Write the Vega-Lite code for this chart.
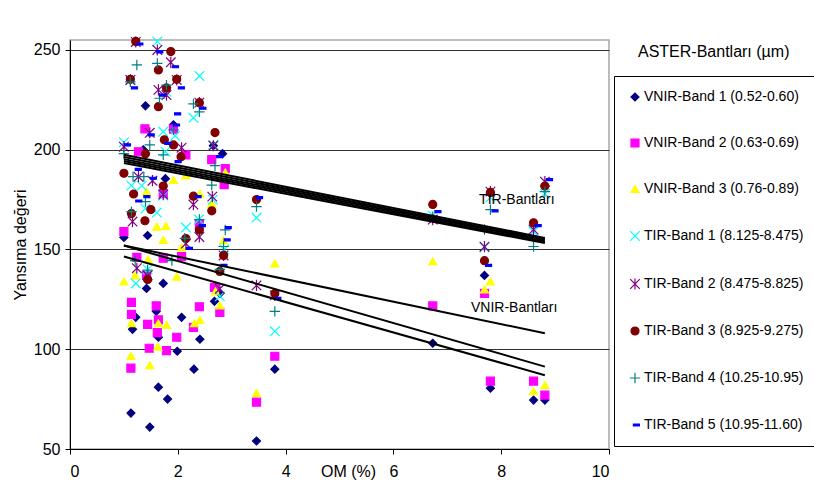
{
  "$schema": "https://vega.github.io/schema/vega-lite/v6.json",
  "width": 539,
  "height": 409,
  "autosize": {"type": "none"},
  "padding": {"left": 70, "top": 40, "right": 205, "bottom": 35},
  "background": "white",
  "config": {
    "font": "Liberation Sans",
    "view": {"stroke": "#a6a6a6", "strokeWidth": 1.5},
    "axis": {"labelFont": "Liberation Sans", "titleFont": "Liberation Sans", "labelColor": "black", "titleColor": "black", "titleFontWeight": "normal", "labelFontSize": 16, "titleFontSize": 16, "domainColor": "black", "tickColor": "black"}
  },
  "title": {"text": "ASTER-Bantları (µm)", "anchor": "start", "frame": "group", "orient": "top", "offset": 0, "dx": 568, "dy": 34, "baseline": "middle", "fontSize": 16, "fontWeight": "normal", "font": "Liberation Sans", "color": "black"},
  "datasets": {
    "points": [
      {"b":"VNIR-Band 1 (0.52-0.60)","om":1.00,"value":156},{"b":"VNIR-Band 1 (0.52-0.60)","om":1.13,"value":68},{"b":"VNIR-Band 1 (0.52-0.60)","om":1.16,"value":110},{"b":"VNIR-Band 1 (0.52-0.60)","om":1.22,"value":116},{"b":"VNIR-Band 1 (0.52-0.60)","om":1.36,"value":200},{"b":"VNIR-Band 1 (0.52-0.60)","om":1.40,"value":222},{"b":"VNIR-Band 1 (0.52-0.60)","om":1.42,"value":130.5},{"b":"VNIR-Band 1 (0.52-0.60)","om":1.44,"value":157},{"b":"VNIR-Band 1 (0.52-0.60)","om":1.48,"value":61},{"b":"VNIR-Band 1 (0.52-0.60)","om":1.60,"value":119},{"b":"VNIR-Band 1 (0.52-0.60)","om":1.64,"value":106},{"b":"VNIR-Band 1 (0.52-0.60)","om":1.64,"value":81},{"b":"VNIR-Band 1 (0.52-0.60)","om":1.73,"value":133},{"b":"VNIR-Band 1 (0.52-0.60)","om":1.77,"value":185.5},{"b":"VNIR-Band 1 (0.52-0.60)","om":1.81,"value":75},{"b":"VNIR-Band 1 (0.52-0.60)","om":1.92,"value":212.5},{"b":"VNIR-Band 1 (0.52-0.60)","om":1.99,"value":99},{"b":"VNIR-Band 1 (0.52-0.60)","om":2.07,"value":116},{"b":"VNIR-Band 1 (0.52-0.60)","om":2.30,"value":90},{"b":"VNIR-Band 1 (0.52-0.60)","om":2.41,"value":105},{"b":"VNIR-Band 1 (0.52-0.60)","om":2.66,"value":202},{"b":"VNIR-Band 1 (0.52-0.60)","om":2.68,"value":124},{"b":"VNIR-Band 1 (0.52-0.60)","om":2.78,"value":128},{"b":"VNIR-Band 1 (0.52-0.60)","om":2.83,"value":198},{"b":"VNIR-Band 1 (0.52-0.60)","om":3.46,"value":54},{"b":"VNIR-Band 1 (0.52-0.60)","om":3.80,"value":90},{"b":"VNIR-Band 1 (0.52-0.60)","om":6.73,"value":103},{"b":"VNIR-Band 1 (0.52-0.60)","om":7.69,"value":137},{"b":"VNIR-Band 1 (0.52-0.60)","om":7.80,"value":80.5},{"b":"VNIR-Band 1 (0.52-0.60)","om":8.60,"value":74.5},{"b":"VNIR-Band 1 (0.52-0.60)","om":8.81,"value":74.5},
      {"b":"VNIR-Band 2 (0.63-0.69)","om":1.00,"value":159},{"b":"VNIR-Band 2 (0.63-0.69)","om":1.13,"value":90.5},{"b":"VNIR-Band 2 (0.63-0.69)","om":1.14,"value":123.5},{"b":"VNIR-Band 2 (0.63-0.69)","om":1.14,"value":117.5},{"b":"VNIR-Band 2 (0.63-0.69)","om":1.24,"value":146},{"b":"VNIR-Band 2 (0.63-0.69)","om":1.27,"value":199},{"b":"VNIR-Band 2 (0.63-0.69)","om":1.39,"value":210.5},{"b":"VNIR-Band 2 (0.63-0.69)","om":1.42,"value":137},{"b":"VNIR-Band 2 (0.63-0.69)","om":1.44,"value":112.5},{"b":"VNIR-Band 2 (0.63-0.69)","om":1.47,"value":100.5},{"b":"VNIR-Band 2 (0.63-0.69)","om":1.60,"value":121.7},{"b":"VNIR-Band 2 (0.63-0.69)","om":1.62,"value":108.3},{"b":"VNIR-Band 2 (0.63-0.69)","om":1.64,"value":114.7},{"b":"VNIR-Band 2 (0.63-0.69)","om":1.73,"value":145.6},{"b":"VNIR-Band 2 (0.63-0.69)","om":1.73,"value":178},{"b":"VNIR-Band 2 (0.63-0.69)","om":1.79,"value":99.3},{"b":"VNIR-Band 2 (0.63-0.69)","om":1.92,"value":210.3},{"b":"VNIR-Band 2 (0.63-0.69)","om":1.98,"value":106},{"b":"VNIR-Band 2 (0.63-0.69)","om":2.07,"value":146.4},{"b":"VNIR-Band 2 (0.63-0.69)","om":2.15,"value":197.4},{"b":"VNIR-Band 2 (0.63-0.69)","om":2.29,"value":111},{"b":"VNIR-Band 2 (0.63-0.69)","om":2.40,"value":121.3},{"b":"VNIR-Band 2 (0.63-0.69)","om":2.40,"value":162.6},{"b":"VNIR-Band 2 (0.63-0.69)","om":2.63,"value":195},{"b":"VNIR-Band 2 (0.63-0.69)","om":2.68,"value":131},{"b":"VNIR-Band 2 (0.63-0.69)","om":2.78,"value":118.5},{"b":"VNIR-Band 2 (0.63-0.69)","om":2.86,"value":182.5},{"b":"VNIR-Band 2 (0.63-0.69)","om":2.88,"value":190.5},{"b":"VNIR-Band 2 (0.63-0.69)","om":3.46,"value":73.5},{"b":"VNIR-Band 2 (0.63-0.69)","om":3.80,"value":96.5},{"b":"VNIR-Band 2 (0.63-0.69)","om":6.73,"value":121.7},{"b":"VNIR-Band 2 (0.63-0.69)","om":7.69,"value":128},{"b":"VNIR-Band 2 (0.63-0.69)","om":7.80,"value":84},{"b":"VNIR-Band 2 (0.63-0.69)","om":8.60,"value":84},{"b":"VNIR-Band 2 (0.63-0.69)","om":8.81,"value":77},
      {"b":"VNIR-Band 3 (0.76-0.89)","om":1.00,"value":134},{"b":"VNIR-Band 3 (0.76-0.89)","om":1.13,"value":96.6},{"b":"VNIR-Band 3 (0.76-0.89)","om":1.14,"value":113},{"b":"VNIR-Band 3 (0.76-0.89)","om":1.21,"value":137},{"b":"VNIR-Band 3 (0.76-0.89)","om":1.42,"value":179},{"b":"VNIR-Band 3 (0.76-0.89)","om":1.45,"value":145},{"b":"VNIR-Band 3 (0.76-0.89)","om":1.48,"value":92},{"b":"VNIR-Band 3 (0.76-0.89)","om":1.61,"value":161.4},{"b":"VNIR-Band 3 (0.76-0.89)","om":1.63,"value":101.3},{"b":"VNIR-Band 3 (0.76-0.89)","om":1.64,"value":113},{"b":"VNIR-Band 3 (0.76-0.89)","om":1.73,"value":154.8},{"b":"VNIR-Band 3 (0.76-0.89)","om":1.78,"value":161.8},{"b":"VNIR-Band 3 (0.76-0.89)","om":1.79,"value":112.2},{"b":"VNIR-Band 3 (0.76-0.89)","om":1.92,"value":184.8},{"b":"VNIR-Band 3 (0.76-0.89)","om":1.98,"value":136.4},{"b":"VNIR-Band 3 (0.76-0.89)","om":2.07,"value":151},{"b":"VNIR-Band 3 (0.76-0.89)","om":2.15,"value":187.3},{"b":"VNIR-Band 3 (0.76-0.89)","om":2.31,"value":113},{"b":"VNIR-Band 3 (0.76-0.89)","om":2.41,"value":114.7},{"b":"VNIR-Band 3 (0.76-0.89)","om":2.41,"value":178},{"b":"VNIR-Band 3 (0.76-0.89)","om":2.63,"value":173},{"b":"VNIR-Band 3 (0.76-0.89)","om":2.70,"value":129},{"b":"VNIR-Band 3 (0.76-0.89)","om":2.78,"value":122},{"b":"VNIR-Band 3 (0.76-0.89)","om":2.85,"value":154.7},{"b":"VNIR-Band 3 (0.76-0.89)","om":2.88,"value":188.6},{"b":"VNIR-Band 3 (0.76-0.89)","om":3.46,"value":78},{"b":"VNIR-Band 3 (0.76-0.89)","om":3.80,"value":143},{"b":"VNIR-Band 3 (0.76-0.89)","om":6.73,"value":144},{"b":"VNIR-Band 3 (0.76-0.89)","om":7.69,"value":130},{"b":"VNIR-Band 3 (0.76-0.89)","om":7.80,"value":134},{"b":"VNIR-Band 3 (0.76-0.89)","om":8.60,"value":79},{"b":"VNIR-Band 3 (0.76-0.89)","om":8.81,"value":82},
      {"b":"TIR-Band 1 (8.125-8.475)","om":1.00,"value":203.7},{"b":"TIR-Band 1 (8.125-8.475)","om":1.12,"value":235},{"b":"TIR-Band 1 (8.125-8.475)","om":1.14,"value":182},{"b":"TIR-Band 1 (8.125-8.475)","om":1.22,"value":133},{"b":"TIR-Band 1 (8.125-8.475)","om":1.33,"value":182},{"b":"TIR-Band 1 (8.125-8.475)","om":1.40,"value":170.5},{"b":"TIR-Band 1 (8.125-8.475)","om":1.44,"value":140},{"b":"TIR-Band 1 (8.125-8.475)","om":1.62,"value":254.2},{"b":"TIR-Band 1 (8.125-8.475)","om":1.61,"value":168.5},{"b":"TIR-Band 1 (8.125-8.475)","om":1.73,"value":209},{"b":"TIR-Band 1 (8.125-8.475)","om":1.73,"value":177},{"b":"TIR-Band 1 (8.125-8.475)","om":1.77,"value":199},{"b":"TIR-Band 1 (8.125-8.475)","om":1.79,"value":229},{"b":"TIR-Band 1 (8.125-8.475)","om":1.95,"value":207},{"b":"TIR-Band 1 (8.125-8.475)","om":2.15,"value":161},{"b":"TIR-Band 1 (8.125-8.475)","om":2.29,"value":216},{"b":"TIR-Band 1 (8.125-8.475)","om":2.40,"value":237},{"b":"TIR-Band 1 (8.125-8.475)","om":2.39,"value":165},{"b":"TIR-Band 1 (8.125-8.475)","om":2.66,"value":202.4},{"b":"TIR-Band 1 (8.125-8.475)","om":2.65,"value":175},{"b":"TIR-Band 1 (8.125-8.475)","om":2.78,"value":126.5},{"b":"TIR-Band 1 (8.125-8.475)","om":2.86,"value":150},{"b":"TIR-Band 1 (8.125-8.475)","om":3.46,"value":166},{"b":"TIR-Band 1 (8.125-8.475)","om":3.80,"value":109},{"b":"TIR-Band 1 (8.125-8.475)","om":6.73,"value":167},{"b":"TIR-Band 1 (8.125-8.475)","om":7.69,"value":151},{"b":"TIR-Band 1 (8.125-8.475)","om":7.80,"value":176},{"b":"TIR-Band 1 (8.125-8.475)","om":8.60,"value":159},{"b":"TIR-Band 1 (8.125-8.475)","om":8.81,"value":178},
      {"b":"TIR-Band 2 (8.475-8.825)","om":1.00,"value":201.5},{"b":"TIR-Band 2 (8.475-8.825)","om":1.12,"value":235},{"b":"TIR-Band 2 (8.475-8.825)","om":1.16,"value":164},{"b":"TIR-Band 2 (8.475-8.825)","om":1.22,"value":254},{"b":"TIR-Band 2 (8.475-8.825)","om":1.24,"value":140.6},{"b":"TIR-Band 2 (8.475-8.825)","om":1.27,"value":186.5},{"b":"TIR-Band 2 (8.475-8.825)","om":1.44,"value":137},{"b":"TIR-Band 2 (8.475-8.825)","om":1.48,"value":208.5},{"b":"TIR-Band 2 (8.475-8.825)","om":1.53,"value":184.5},{"b":"TIR-Band 2 (8.475-8.825)","om":1.62,"value":250},{"b":"TIR-Band 2 (8.475-8.825)","om":1.64,"value":230},{"b":"TIR-Band 2 (8.475-8.825)","om":1.73,"value":177.5},{"b":"TIR-Band 2 (8.475-8.825)","om":1.79,"value":227.4},{"b":"TIR-Band 2 (8.475-8.825)","om":1.87,"value":243.8},{"b":"TIR-Band 2 (8.475-8.825)","om":1.98,"value":235},{"b":"TIR-Band 2 (8.475-8.825)","om":2.07,"value":201},{"b":"TIR-Band 2 (8.475-8.825)","om":2.15,"value":153},{"b":"TIR-Band 2 (8.475-8.825)","om":2.29,"value":172.5},{"b":"TIR-Band 2 (8.475-8.825)","om":2.40,"value":223.6},{"b":"TIR-Band 2 (8.475-8.825)","om":2.40,"value":156.3},{"b":"TIR-Band 2 (8.475-8.825)","om":2.64,"value":176.5},{"b":"TIR-Band 2 (8.475-8.825)","om":2.66,"value":202},{"b":"TIR-Band 2 (8.475-8.825)","om":2.78,"value":130.3},{"b":"TIR-Band 2 (8.475-8.825)","om":2.85,"value":147},{"b":"TIR-Band 2 (8.475-8.825)","om":3.46,"value":132},{"b":"TIR-Band 2 (8.475-8.825)","om":3.80,"value":127},{"b":"TIR-Band 2 (8.475-8.825)","om":6.73,"value":165},{"b":"TIR-Band 2 (8.475-8.825)","om":7.69,"value":151.4},{"b":"TIR-Band 2 (8.475-8.825)","om":7.80,"value":179},{"b":"TIR-Band 2 (8.475-8.825)","om":8.60,"value":160},{"b":"TIR-Band 2 (8.475-8.825)","om":8.81,"value":184},
      {"b":"TIR-Band 3 (8.925-9.275)","om":1.00,"value":188.2},{"b":"TIR-Band 3 (8.925-9.275)","om":1.12,"value":235.3},{"b":"TIR-Band 3 (8.925-9.275)","om":1.14,"value":168},{"b":"TIR-Band 3 (8.925-9.275)","om":1.18,"value":177.8},{"b":"TIR-Band 3 (8.925-9.275)","om":1.22,"value":254.3},{"b":"TIR-Band 3 (8.925-9.275)","om":1.40,"value":198},{"b":"TIR-Band 3 (8.925-9.275)","om":1.39,"value":164.4},{"b":"TIR-Band 3 (8.925-9.275)","om":1.44,"value":135},{"b":"TIR-Band 3 (8.925-9.275)","om":1.50,"value":170},{"b":"TIR-Band 3 (8.925-9.275)","om":1.64,"value":240},{"b":"TIR-Band 3 (8.925-9.275)","om":1.64,"value":221.6},{"b":"TIR-Band 3 (8.925-9.275)","om":1.73,"value":181.8},{"b":"TIR-Band 3 (8.925-9.275)","om":1.75,"value":205},{"b":"TIR-Band 3 (8.925-9.275)","om":1.79,"value":231},{"b":"TIR-Band 3 (8.925-9.275)","om":1.87,"value":249.2},{"b":"TIR-Band 3 (8.925-9.275)","om":1.92,"value":202.4},{"b":"TIR-Band 3 (8.925-9.275)","om":1.98,"value":235.3},{"b":"TIR-Band 3 (8.925-9.275)","om":2.06,"value":196.5},{"b":"TIR-Band 3 (8.925-9.275)","om":2.15,"value":155.5},{"b":"TIR-Band 3 (8.925-9.275)","om":2.29,"value":176.7},{"b":"TIR-Band 3 (8.925-9.275)","om":2.40,"value":223.6},{"b":"TIR-Band 3 (8.925-9.275)","om":2.40,"value":159.8},{"b":"TIR-Band 3 (8.925-9.275)","om":2.63,"value":169.4},{"b":"TIR-Band 3 (8.925-9.275)","om":2.69,"value":208.6},{"b":"TIR-Band 3 (8.925-9.275)","om":2.78,"value":139},{"b":"TIR-Band 3 (8.925-9.275)","om":2.85,"value":147},{"b":"TIR-Band 3 (8.925-9.275)","om":3.46,"value":175},{"b":"TIR-Band 3 (8.925-9.275)","om":3.80,"value":128},{"b":"TIR-Band 3 (8.925-9.275)","om":6.73,"value":172.6},{"b":"TIR-Band 3 (8.925-9.275)","om":7.69,"value":144.4},{"b":"TIR-Band 3 (8.925-9.275)","om":7.80,"value":178.6},{"b":"TIR-Band 3 (8.925-9.275)","om":8.60,"value":163.4},{"b":"TIR-Band 3 (8.925-9.275)","om":8.81,"value":181.8},
      {"b":"TIR-Band 4 (10.25-10.95)","om":1.00,"value":198},{"b":"TIR-Band 4 (10.25-10.95)","om":1.12,"value":234},{"b":"TIR-Band 4 (10.25-10.95)","om":1.14,"value":169},{"b":"TIR-Band 4 (10.25-10.95)","om":1.17,"value":186.5},{"b":"TIR-Band 4 (10.25-10.95)","om":1.24,"value":242.5},{"b":"TIR-Band 4 (10.25-10.95)","om":1.21,"value":144.4},{"b":"TIR-Band 4 (10.25-10.95)","om":1.37,"value":186.5},{"b":"TIR-Band 4 (10.25-10.95)","om":1.40,"value":174},{"b":"TIR-Band 4 (10.25-10.95)","om":1.48,"value":202.4},{"b":"TIR-Band 4 (10.25-10.95)","om":1.44,"value":139.7},{"b":"TIR-Band 4 (10.25-10.95)","om":1.62,"value":243.3},{"b":"TIR-Band 4 (10.25-10.95)","om":1.66,"value":225.8},{"b":"TIR-Band 4 (10.25-10.95)","om":1.73,"value":197.4},{"b":"TIR-Band 4 (10.25-10.95)","om":1.79,"value":232.4},{"b":"TIR-Band 4 (10.25-10.95)","om":1.89,"value":144.4},{"b":"TIR-Band 4 (10.25-10.95)","om":1.92,"value":210},{"b":"TIR-Band 4 (10.25-10.95)","om":2.13,"value":155.6},{"b":"TIR-Band 4 (10.25-10.95)","om":2.29,"value":223},{"b":"TIR-Band 4 (10.25-10.95)","om":2.40,"value":219},{"b":"TIR-Band 4 (10.25-10.95)","om":2.40,"value":165},{"b":"TIR-Band 4 (10.25-10.95)","om":2.63,"value":182.3},{"b":"TIR-Band 4 (10.25-10.95)","om":2.69,"value":192},{"b":"TIR-Band 4 (10.25-10.95)","om":2.78,"value":140},{"b":"TIR-Band 4 (10.25-10.95)","om":2.88,"value":159.8},{"b":"TIR-Band 4 (10.25-10.95)","om":2.85,"value":151.5},{"b":"TIR-Band 4 (10.25-10.95)","om":3.46,"value":171.5},{"b":"TIR-Band 4 (10.25-10.95)","om":3.80,"value":119},{"b":"TIR-Band 4 (10.25-10.95)","om":6.73,"value":166.4},{"b":"TIR-Band 4 (10.25-10.95)","om":7.69,"value":160},{"b":"TIR-Band 4 (10.25-10.95)","om":7.80,"value":170},{"b":"TIR-Band 4 (10.25-10.95)","om":8.60,"value":151.5},{"b":"TIR-Band 4 (10.25-10.95)","om":8.81,"value":179},
      {"b":"TIR-Band 5 (10.95-11.60)","om":1.04,"value":202.4},{"b":"TIR-Band 5 (10.95-11.60)","om":1.17,"value":231},{"b":"TIR-Band 5 (10.95-11.60)","om":1.24,"value":190.2},{"b":"TIR-Band 5 (10.95-11.60)","om":1.27,"value":253},{"b":"TIR-Band 5 (10.95-11.60)","om":1.25,"value":174.3},{"b":"TIR-Band 5 (10.95-11.60)","om":1.40,"value":176.5},{"b":"TIR-Band 5 (10.95-11.60)","om":1.48,"value":207.4},{"b":"TIR-Band 5 (10.95-11.60)","om":1.52,"value":185.7},{"b":"TIR-Band 5 (10.95-11.60)","om":1.64,"value":249},{"b":"TIR-Band 5 (10.95-11.60)","om":1.69,"value":227.4},{"b":"TIR-Band 5 (10.95-11.60)","om":1.79,"value":203.2},{"b":"TIR-Band 5 (10.95-11.60)","om":1.93,"value":241.6},{"b":"TIR-Band 5 (10.95-11.60)","om":1.97,"value":218},{"b":"TIR-Band 5 (10.95-11.60)","om":1.95,"value":212.4},{"b":"TIR-Band 5 (10.95-11.60)","om":2.04,"value":231},{"b":"TIR-Band 5 (10.95-11.60)","om":1.98,"value":194},{"b":"TIR-Band 5 (10.95-11.60)","om":2.19,"value":150.6},{"b":"TIR-Band 5 (10.95-11.60)","om":2.35,"value":176.5},{"b":"TIR-Band 5 (10.95-11.60)","om":2.44,"value":220.8},{"b":"TIR-Band 5 (10.95-11.60)","om":2.43,"value":162},{"b":"TIR-Band 5 (10.95-11.60)","om":2.75,"value":196.5},{"b":"TIR-Band 5 (10.95-11.60)","om":2.91,"value":161},{"b":"TIR-Band 5 (10.95-11.60)","om":2.89,"value":154.8},{"b":"TIR-Band 5 (10.95-11.60)","om":2.83,"value":142},{"b":"TIR-Band 5 (10.95-11.60)","om":3.49,"value":176},{"b":"TIR-Band 5 (10.95-11.60)","om":3.83,"value":125.5},{"b":"TIR-Band 5 (10.95-11.60)","om":6.80,"value":169},{"b":"TIR-Band 5 (10.95-11.60)","om":7.74,"value":142},{"b":"TIR-Band 5 (10.95-11.60)","om":7.86,"value":169.4},{"b":"TIR-Band 5 (10.95-11.60)","om":8.66,"value":162},{"b":"TIR-Band 5 (10.95-11.60)","om":8.87,"value":185}
    ],
    "trend": [
      {"b":"V1","om":1.0,"value":146.5},{"b":"V1","om":8.81,"value":87},
      {"b":"V2","om":1.0,"value":152},{"b":"V2","om":8.81,"value":91.3},
      {"b":"V3","om":1.0,"value":152},{"b":"V3","om":8.81,"value":108},
      {"b":"T1","om":1.0,"value":197.5},{"b":"T1","om":8.81,"value":155.8},
      {"b":"T2","om":1.0,"value":196.4},{"b":"T2","om":8.81,"value":155.1},
      {"b":"T3","om":1.0,"value":195.3},{"b":"T3","om":8.81,"value":154.5},
      {"b":"T4","om":1.0,"value":194.3},{"b":"T4","om":8.81,"value":153.8},
      {"b":"T5","om":1.0,"value":193.3},{"b":"T5","om":8.81,"value":153.2}
    ],
    "labels": [
      {"om":8.29,"value":174.8,"label":"TIR-Bantları"},
      {"om":8.24,"value":120.7,"label":"VNIR-Bantları"}
    ]
  },
  "encoding": {
    "x": {"field":"om","type":"quantitative","scale":{"domain":[0,10],"nice":false,"zero":false},
      "axis":{"title":"OM (%)","values":[0,2,4,6,8,10],"grid":false,"tickSize":5,"labelPadding":9,"titleX":278,"titleY":22,"titleBaseline":"middle","titleAnchor":null}},
    "y": {"field":"value","type":"quantitative","scale":{"domain":[50,255],"nice":false,"zero":false},
      "axis":{"title":"Yansıma değeri","values":[50,100,150,200,250],"grid":true,"gridColor":"#333333","gridOpacity":1,"tickSize":5,"labelPadding":5,"titlePadding":5}}
  },
  "layer": [
    {
      "data": {"name":"points"},
      "mark": {"type":"point","filled":true,"size":64,"strokeWidth":1.2,"opacity":1},
      "encoding": {
        "fill": {"field":"b","type":"nominal","sort":null,
          "scale":{"domain":["VNIR-Band 1 (0.52-0.60)","VNIR-Band 2 (0.63-0.69)","VNIR-Band 3 (0.76-0.89)","TIR-Band 1 (8.125-8.475)","TIR-Band 2 (8.475-8.825)","TIR-Band 3 (8.925-9.275)","TIR-Band 4 (10.25-10.95)","TIR-Band 5 (10.95-11.60)"],
            "range":["#000080","#FF00FF","#FFFF00","#00FFFF","#800080","#800000","#008080","#0000FF"]},
          "legend":{"title":null,"orient":"none","legendX":544,"legendY":36,"strokeColor":"black","padding":14,"rowPadding":32,"labelFontSize":14,"labelFont":"Liberation Sans","labelColor":"black","symbolSize":64,"symbolStrokeWidth":1.2,"labelOffset":2,"labelLimit":400}},
        "stroke": {"field":"b","type":"nominal","sort":null,
          "scale":{"domain":["VNIR-Band 1 (0.52-0.60)","VNIR-Band 2 (0.63-0.69)","VNIR-Band 3 (0.76-0.89)","TIR-Band 1 (8.125-8.475)","TIR-Band 2 (8.475-8.825)","TIR-Band 3 (8.925-9.275)","TIR-Band 4 (10.25-10.95)","TIR-Band 5 (10.95-11.60)"],
            "range":["#000080","#FF00FF","#FFFF00","#00FFFF","#800080","#800000","#008080","#0000FF"]},
          "legend":{"title":null,"orient":"none","legendX":544,"legendY":36,"strokeColor":"black","padding":14,"rowPadding":32,"labelFontSize":14,"labelFont":"Liberation Sans","labelColor":"black","symbolSize":64,"symbolStrokeWidth":1.2,"labelOffset":2,"labelLimit":400}},
        "shape": {"field":"b","type":"nominal","sort":null,
          "scale":{"domain":["VNIR-Band 1 (0.52-0.60)","VNIR-Band 2 (0.63-0.69)","VNIR-Band 3 (0.76-0.89)","TIR-Band 1 (8.125-8.475)","TIR-Band 2 (8.475-8.825)","TIR-Band 3 (8.925-9.275)","TIR-Band 4 (10.25-10.95)","TIR-Band 5 (10.95-11.60)"],
            "range":["diamond","square","triangle-up","M-1.2,-1.2L1.2,1.2M-1.2,1.2L1.2,-1.2","M-1.2,-1.2L1.2,1.2M-1.2,1.2L1.2,-1.2M0,-1.4L0,1.4","circle","M-1.3,0L1.3,0M0,-1.3L0,1.3","M-0.4,-0.25L1.1,-0.25L1.1,0.25L-0.4,0.25Z"]},
          "legend":{"title":null,"orient":"none","legendX":544,"legendY":36,"strokeColor":"black","padding":14,"rowPadding":32,"labelFontSize":14,"labelFont":"Liberation Sans","labelColor":"black","symbolSize":64,"symbolStrokeWidth":1.2,"labelOffset":2,"labelLimit":400}}
      }
    },
    {
      "data": {"name":"trend"},
      "mark": {"type":"line","color":"black","strokeWidth":2},
      "encoding": {"detail": {"field":"b","type":"nominal"}}
    },
    {
      "data": {"name":"labels"},
      "mark": {"type":"text","fontSize":14,"font":"Liberation Sans","color":"black","align":"center","baseline":"middle"},
      "encoding": {"text": {"field":"label","type":"nominal"}}
    }
  ]
}
